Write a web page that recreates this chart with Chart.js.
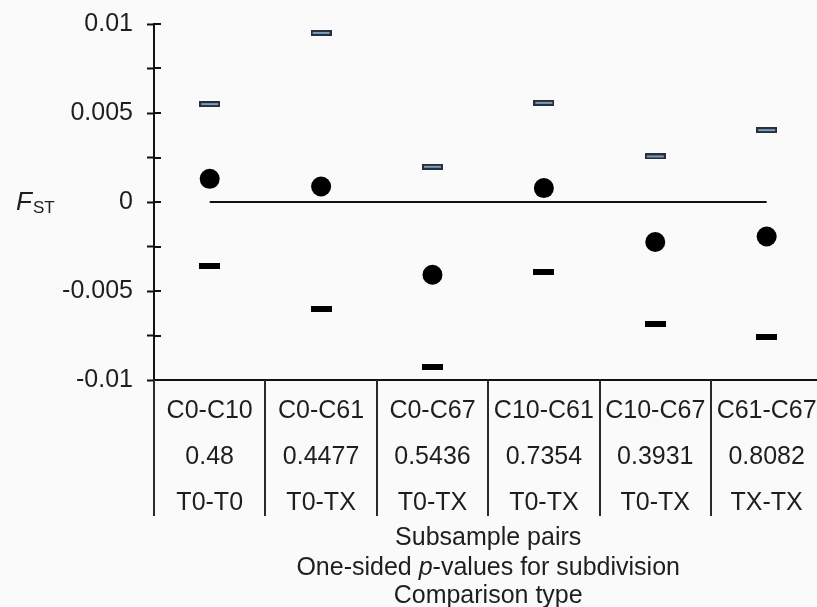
<!DOCTYPE html>
<html><head><meta charset="utf-8">
<script src="https://cdn.jsdelivr.net/npm/chart.js@4.4.0/dist/chart.umd.min.js"></script>
<style>html,body{margin:0;padding:0;background:#fafafa;overflow:hidden}
#wrap{position:relative;width:817px;height:607px}</style>
</head><body><div id="wrap"><canvas id="c"></canvas></div>
<script>
const categories = ['C0-C10','C0-C61','C0-C67','C10-C61','C10-C67','C61-C67'];
const pValues = ['0.48','0.4477','0.5436','0.7354','0.3931','0.8082'];
const comparisonTypes = ['T0-T0','T0-TX','T0-TX','T0-TX','T0-TX','TX-TX'];
const upperLimits = [0.0055, 0.0095, 0.00198, 0.00557, 0.00256, 0.00404];
const fstValues = [0.0013, 0.00087, -0.00409, 0.00078, -0.00225, -0.00194];
const lowerLimits = [-0.00357, -0.0060, -0.00928, -0.00394, -0.00683, -0.00761];
const yTickValues = [-0.01, -0.005, 0, 0.005, 0.01];
const yTickLabels = ['-0.01', '-0.005', '0', '0.005', '0.01'];
const xTitleLines = [
  [['Subsample pairs', false]],
  [['One-sided ', false], ['p', true], ['-values for subdivision', false]],
  [['Comparison type', false]]
];

const FONT = '"Liberation Sans", Arial, sans-serif';
const FS = 25;
const TXT = '#1e1e1e';

function makeDash(fill, border) {
  const c = document.createElement('canvas');
  c.width = 21; c.height = 6;
  const g = c.getContext('2d');
  g.fillStyle = border; g.fillRect(0, 0, 21, 6);
  if (fill) { g.fillStyle = fill; g.fillRect(2, 2, 17, 2); }
  return c;
}
const upperDash = makeDash('#7d9bbb', '#25303c');
const lowerDash = makeDash(null, '#000');

const pts = arr => arr.map((v, i) => ({x: i, y: v}));

const decor = {
  id: 'decor',
  afterDraw(chart) {
    const {ctx, chartArea: a, scales: {x, y}} = chart;
    ctx.save();
    ctx.strokeStyle = '#111'; ctx.lineWidth = 2;
    y.ticks.forEach(t => {
      const py = Math.round(y.getPixelForValue(t.value));
      ctx.beginPath(); ctx.moveTo(a.left, py); ctx.lineTo(a.left + 7, py); ctx.stroke();
    });
    ctx.strokeStyle = '#2a2a2a';
    for (let i = 0; i <= categories.length; i++) {
      const px = Math.round(x.getPixelForValue(i - 0.5));
      if (px > chart.width) continue;
      ctx.beginPath(); ctx.moveTo(px, a.bottom); ctx.lineTo(px, x.bottom); ctx.stroke();
    }
    // F_ST label
    ctx.fillStyle = TXT;
    ctx.textBaseline = 'alphabetic';
    ctx.textAlign = 'left';
    ctx.font = 'italic 26px ' + FONT;
    ctx.fillText('F', 16, 210);
    const fw = ctx.measureText('F').width;
    ctx.font = '17px ' + FONT;
    ctx.fillText('ST', 16 + fw + 1, 213);
    // x title
    const cx = x.getPixelForValue((categories.length - 1) / 2);
    const ys = [x.bottom + 22, x.bottom + 52, x.bottom + 80];
    ctx.textBaseline = 'middle';
    xTitleLines.forEach((segs, li) => {
      let w = 0;
      segs.forEach(([t, it]) => { ctx.font = (it ? 'italic ' : '') + FS + 'px ' + FONT; w += ctx.measureText(t).width; });
      let sx = cx - w / 2;
      segs.forEach(([t, it]) => {
        ctx.font = (it ? 'italic ' : '') + FS + 'px ' + FONT;
        ctx.fillText(t, sx, ys[li]);
        sx += ctx.measureText(t).width;
      });
    });
    ctx.restore();
  }
};

new Chart(document.getElementById('c'), {
  type: 'scatter',
  data: {
    datasets: [
      {label: 'Mean', data: pts(fstValues), pointStyle: 'circle', pointRadius: 10, pointBorderWidth: 0,
       backgroundColor: '#000', borderColor: '#000', order: 1},
      {label: 'Upper', data: pts(upperLimits), pointStyle: upperDash, pointRadius: 10, order: 2},
      {label: 'Lower', data: pts(lowerLimits), pointStyle: lowerDash, pointRadius: 10, order: 3},
      {label: 'Zero', type: 'line', data: [{x: 0, y: 0}, {x: categories.length - 1, y: 0}],
       borderColor: '#111', borderWidth: 2, pointRadius: 0, showLine: true, order: 4}
    ]
  },
  options: {
    responsive: true, maintainAspectRatio: false, animation: false, events: [],
    layout: {autoPadding: false, padding: {top: 24, left: 0, right: 0, bottom: 91}},
    plugins: {legend: {display: false}, tooltip: {enabled: false}},
    scales: {
      x: {
        type: 'linear', min: -0.5, max: 5.452,
        afterBuildTicks: s => { s.ticks = categories.map((c, i) => ({value: i})); },
        afterFit: s => { s.height = 136; s.paddingLeft = 0; s.paddingRight = 0; },
        grid: {display: false, drawTicks: false, tickLength: 0},
        border: {display: true, color: '#111', width: 2},
        ticks: {
          autoSkip: false, maxRotation: 0, minRotation: 0, padding: 8, color: TXT,
          font: {family: FONT, size: FS, lineHeight: 46 / FS},
          callback: v => [categories[v], pValues[v], comparisonTypes[v]]
        }
      },
      y: {
        min: -0.01, max: 0.01,
        afterFit: s => { s.width = 154; s.paddingTop = 0; s.paddingBottom = 0; },
        afterBuildTicks: s => {
          const t = [];
          for (let k = -4; k <= 4; k++) t.push({value: k * 0.0025});
          s.ticks = t;
        },
        grid: {drawOnChartArea: false, drawTicks: true, tickLength: 7, tickWidth: 2, tickColor: '#111'},
        border: {display: true, color: '#111', width: 2},
        ticks: {
          padding: 14, color: TXT, font: {family: FONT, size: FS},
          callback: v => {
            const idx = yTickValues.findIndex(m => Math.abs(m - v) < 1e-9);
            return idx >= 0 ? yTickLabels[idx] : '';
          }
        }
      }
    }
  },
  plugins: [decor]
});
</script></body></html>
